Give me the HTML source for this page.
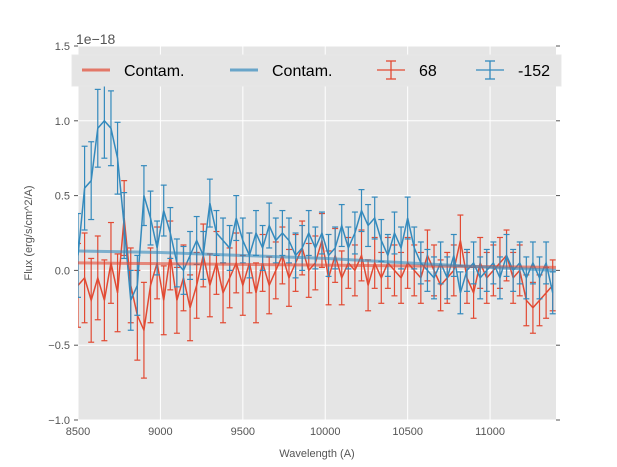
<!DOCTYPE html>
<html><head><meta charset="utf-8"><style>
body{margin:0;background:#fff;}
svg{display:block;font-family:"Liberation Sans",sans-serif;}
</style></head><body>
<svg id="chart" width="617" height="467">
<rect x="78" y="46" width="478" height="374" fill="#e5e5e5"/>
<g id="grid"></g><g id="series"></g><g id="ticks"></g>
<text x="76" y="44" font-size="14" fill="#555">1e−18</text>
<text x="317" y="457" font-size="11" fill="#555" text-anchor="middle">Wavelength (A)</text>
<text transform="translate(32,233) rotate(-90)" font-size="11" fill="#555" text-anchor="middle">Flux (erg/s/cm^2/A)</text>
<g>
<rect x="72" y="55" width="489" height="31" fill="#e5e5e5" stroke="#e8e8e8"/>
<line x1="82" y1="70" x2="110" y2="70" stroke="#E24A33" stroke-opacity="0.7" stroke-width="3"/>
<text x="124" y="76" font-size="16" fill="#000">Contam.</text>
<line x1="230" y1="70" x2="258" y2="70" stroke="#348ABD" stroke-opacity="0.7" stroke-width="3"/>
<text x="272" y="76" font-size="16" fill="#000">Contam.</text>
<g stroke="#E24A33" stroke-width="1.3"><line x1="377" y1="70" x2="405" y2="70"/><line x1="391" y1="61" x2="391" y2="79"/><line x1="386" y1="61" x2="396" y2="61"/><line x1="386" y1="79" x2="396" y2="79"/></g>
<text x="419" y="76" font-size="16" fill="#000">68</text>
<g stroke="#348ABD" stroke-width="1.3"><line x1="476" y1="70" x2="504" y2="70"/><line x1="490" y1="61" x2="490" y2="79"/><line x1="485" y1="61" x2="495" y2="61"/><line x1="485" y1="79" x2="495" y2="79"/></g>
<text x="518" y="76" font-size="16" fill="#000">-152</text>
</g>
</svg>
<script>
const wave=[8500,8540,8580,8620,8660,8700,8740,8780,8820,8860,8900,8940,8980,9020,9060,9100,9140,9180,9220,9260,9300,9340,9380,9420,9460,9500,9540,9580,9620,9660,9700,9740,9780,9820,9860,9900,9940,9980,10020,10060,10100,10140,10180,10220,10260,10300,10340,10380,10420,10460,10500,10540,10580,10620,10660,10700,10740,10780,10820,10860,10900,10940,10980,11020,11060,11100,11140,11180,11220,11260,11300,11340,11380];
const blueFlux=[0.1,0.55,0.6,0.95,1.0,0.95,0.75,0.3,-0.2,-0.1,0.5,0.35,0.15,0.4,0.25,0.05,0.0,0.1,0.2,0.1,0.45,0.25,0.2,0.15,0.35,0.2,0.1,0.25,0.15,0.3,0.2,0.25,0.2,0.1,0.15,0.25,0.15,0.25,0.1,0.15,0.3,0.15,0.25,0.4,0.3,0.35,0.2,0.1,0.25,0.15,0.35,0.15,0.05,0.0,-0.05,0.05,-0.05,0.1,-0.15,0.0,0.05,-0.05,0.0,0.05,-0.05,0.1,0.0,0.05,-0.05,0.05,-0.05,0.05,-0.15];
const redFlux=[-0.1,-0.05,-0.2,-0.05,-0.2,0.05,-0.15,0.35,-0.1,-0.3,-0.4,-0.1,0.05,-0.2,0.1,-0.2,-0.05,-0.25,-0.1,0.1,-0.1,0.05,-0.15,-0.05,0.05,-0.1,0.05,-0.15,0.05,-0.1,0.0,0.1,-0.05,0.05,0.15,0.0,0.05,0.2,-0.05,0.1,-0.05,0.05,0.0,0.1,-0.1,0.05,-0.05,0.05,0.0,-0.05,0.05,0.0,-0.05,0.1,0.0,-0.1,-0.05,0.0,0.2,-0.05,-0.15,0.05,-0.05,0.0,0.05,0.1,-0.05,0.0,-0.2,-0.25,-0.2,-0.15,-0.1];
const blueErr=[0.28,0.28,0.26,0.26,0.25,0.25,0.24,0.22,0.2,0.2,0.2,0.18,0.18,0.17,0.17,0.16,0.16,0.16,0.16,0.16,0.16,0.15,0.15,0.15,0.15,0.15,0.15,0.15,0.15,0.15,0.15,0.15,0.15,0.15,0.15,0.15,0.14,0.14,0.14,0.14,0.14,0.14,0.14,0.14,0.14,0.14,0.14,0.14,0.14,0.14,0.14,0.14,0.14,0.14,0.14,0.14,0.14,0.14,0.14,0.14,0.14,0.14,0.14,0.14,0.14,0.14,0.14,0.14,0.14,0.14,0.14,0.14,0.14];
const redErr=[0.28,0.3,0.28,0.28,0.27,0.27,0.26,0.25,0.25,0.3,0.32,0.25,0.24,0.23,0.23,0.22,0.22,0.22,0.22,0.21,0.21,0.21,0.2,0.2,0.2,0.2,0.2,0.2,0.19,0.19,0.19,0.19,0.19,0.19,0.18,0.18,0.18,0.18,0.18,0.18,0.18,0.17,0.17,0.17,0.17,0.17,0.17,0.17,0.17,0.17,0.17,0.17,0.17,0.17,0.17,0.17,0.17,0.17,0.17,0.17,0.17,0.17,0.17,0.17,0.17,0.17,0.17,0.17,0.17,0.17,0.17,0.17,0.17];
const contamWave=[8500,9000,9500,10000,10500,11000,11400];
const redContam=[0.05,0.045,0.04,0.035,0.03,0.025,0.02];
const blueContam=[0.13,0.12,0.1,0.08,0.05,0.02,0.0];
const xTicks=[8500,9000,9500,10000,10500,11000];
const yTicks=[-1.0,-0.5,0.0,0.5,1.0,1.5];
const yTickLabels=["−1.0","−0.5","0.0","0.5","1.0","1.5"];

const X0=78,X1=556,Y0=420,Y1=46,xmin=8500,xmax=11400,ymin=-1,ymax=1.5;
const sx=v=>X0+(v-xmin)/(xmax-xmin)*(X1-X0);
const sy=v=>Y0-(v-ymin)/(ymax-ymin)*(Y0-Y1);
const NS="http://www.w3.org/2000/svg";
function mk(tag,attrs,parent){const e=document.createElementNS(NS,tag);for(const k in attrs)e.setAttribute(k,attrs[k]);parent.appendChild(e);return e;}
const grid=document.getElementById('grid'),ticks=document.getElementById('ticks'),ser=document.getElementById('series');
xTicks.forEach(t=>{const x=sx(t);
 const g=mk('line',{x1:x,x2:x,y1:Y1,y2:Y0,stroke:'#fff','stroke-width':1},grid);
 
 
 const tx=mk('text',{x:x,y:Y0+15,'font-size':11,fill:'#555','text-anchor':'middle'},ticks);tx.textContent=t;
 
 
});
yTicks.forEach((t,i)=>{const y=sy(t);
 const g=mk('line',{x1:X0,x2:X1,y1:y,y2:y,stroke:'#fff','stroke-width':1},grid);
 
 
 mk('line',{x1:X0-4,x2:X0,y1:y,y2:y,stroke:'#555'},ticks);
 mk('line',{x1:X1,x2:X1+4,y1:y,y2:y,stroke:'#555'},ticks);
 const tx=mk('text',{x:X0-8,y:y+4,'font-size':11,fill:'#555','text-anchor':'end'},ticks);tx.textContent=yTickLabels[i];
 
 
});
function contam(vals,color,name){
 const p=mk('polyline',{points:contamWave.map((w,i)=>sx(w)+','+sy(vals[i])).join(' '),fill:'none',stroke:color,'stroke-opacity':0.6,'stroke-width':3},ser);
 
 
}
function errSeries(flux,err,color,name){
 const g=mk('g',{stroke:color,'stroke-width':1.2,fill:'none'},ser);
 
 
 wave.forEach((w,i)=>{const x=sx(w),a=sy(flux[i]+err[i]),b=sy(flux[i]-err[i]);
  mk('line',{x1:x,x2:x,y1:a,y2:b},g);mk('line',{x1:x-3,x2:x+3,y1:a,y2:a},g);mk('line',{x1:x-3,x2:x+3,y1:b,y2:b},g);});
 mk('polyline',{points:wave.map((w,i)=>sx(w)+','+sy(flux[i])).join(' '),'stroke-width':1.5},g);
}
const clip=mk('clipPath',{id:'cp'},document.getElementById('chart'));
mk('rect',{x:X0,y:Y1,width:X1-X0,height:Y0-Y1},clip);
ser.setAttribute('clip-path','url(#cp)');
errSeries(redFlux,redErr,'#E24A33','series-68');
errSeries(blueFlux,blueErr,'#348ABD','series-152');
contam(redContam,'#E24A33','contam-68-line');
contam(blueContam,'#348ABD','contam-152-line');
</script>
</body></html>
